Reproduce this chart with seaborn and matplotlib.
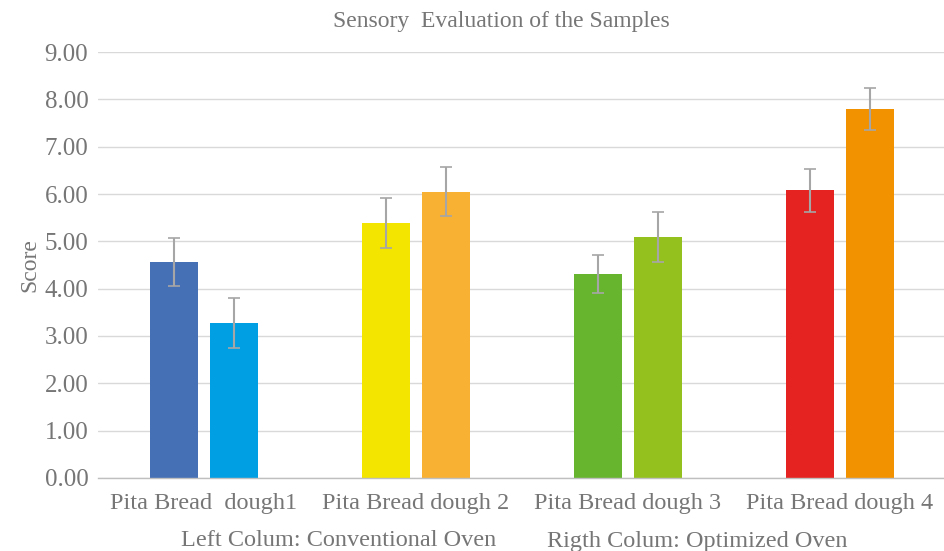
import matplotlib
matplotlib.use("Agg")
import matplotlib.pyplot as plt
import seaborn as sns
import pandas as pd
import numpy as np

samples = ["Pita Bread  dough1", "Pita Bread dough 2", "Pita Bread dough 3", "Pita Bread dough 4"]
ovens = ["Conventional", "Optimized"]
conventional = [4.56, 5.39, 4.31, 6.08]
optimized = [3.28, 6.05, 5.09, 7.80]
conventional_err = [0.50, 0.53, 0.41, 0.45]
optimized_err = [0.53, 0.52, 0.53, 0.45]
bar_colors = {
    "Conventional": ["#4670B6", "#F3E500", "#67B52F", "#E52421"],
    "Optimized": ["#009FE3", "#F8B133", "#95C11F", "#F39200"],
}
yticks = [0, 1, 2, 3, 4, 5, 6, 7, 8, 9]

df = pd.DataFrame({
    "sample": samples * 2,
    "oven": [ovens[0]] * 4 + [ovens[1]] * 4,
    "score": conventional + optimized,
})
errs = {"Conventional": conventional_err, "Optimized": optimized_err}

sns.set_theme(style="white")
plt.rcParams["font.family"] = ["Liberation Serif", "DejaVu Serif"]
text_color = "#767676"

fig = plt.figure(figsize=(9.44, 5.51), dpi=100)
ax = fig.add_axes([98 / 944, 0.1325, 848 / 944, 0.7731])

sns.barplot(data=df, x="sample", y="score", hue="oven", hue_order=ovens,
            order=samples, width=0.57, gap=0.2, errorbar=None, legend=False,
            ax=ax, saturation=1)

for cont, oven in zip(ax.containers, ovens):
    for patch, col, err in zip(cont.patches, bar_colors[oven], errs[oven]):
        patch.set_facecolor(col)
        patch.set_edgecolor("none")
        xc = patch.get_x() + patch.get_width() / 2
        ax.errorbar(xc, patch.get_height(), yerr=err, fmt="none",
                    ecolor="#a6a6a6", elinewidth=1.5, capsize=4, capthick=1.2, zorder=3)

ax.set_ylim(0, 9)
ax.set_yticks(yticks)
ax.set_yticklabels([f"{v:.2f}" for v in yticks])
ax.set_xlim(-0.5, 3.5)
ax.yaxis.grid(True, color="#d9d9d9", linewidth=1)
ax.set_axisbelow(True)
for s in ["top", "right", "left"]:
    ax.spines[s].set_visible(False)
ax.spines["bottom"].set_color("#bfbfbf")
ax.spines["bottom"].set_linewidth(1)
ax.tick_params(axis="y", length=0, labelsize=18, colors=text_color, pad=7)
ax.tick_params(axis="x", length=0, labelsize=17.5, colors=text_color, pad=11)
ax.set_xlabel("")
ax.set_ylabel("Score", fontsize=17, color=text_color, labelpad=3)

fig.text(501 / 944, 1 - 22 / 551, "Sensory  Evaluation of the Samples", ha="center", va="center",
         fontsize=17, color=text_color)
fig.text(181 / 944, 1 - 541 / 551, "Left Colum: Conventional Oven", ha="left", va="center",
         fontsize=17.5, color=text_color)
fig.text(547 / 944, 1 - 541 / 551, "Rigth Colum: Optimized Oven", ha="left", va="center",
         fontsize=17.5, color=text_color)

fig.savefig("out.png", dpi=100, facecolor="white")
